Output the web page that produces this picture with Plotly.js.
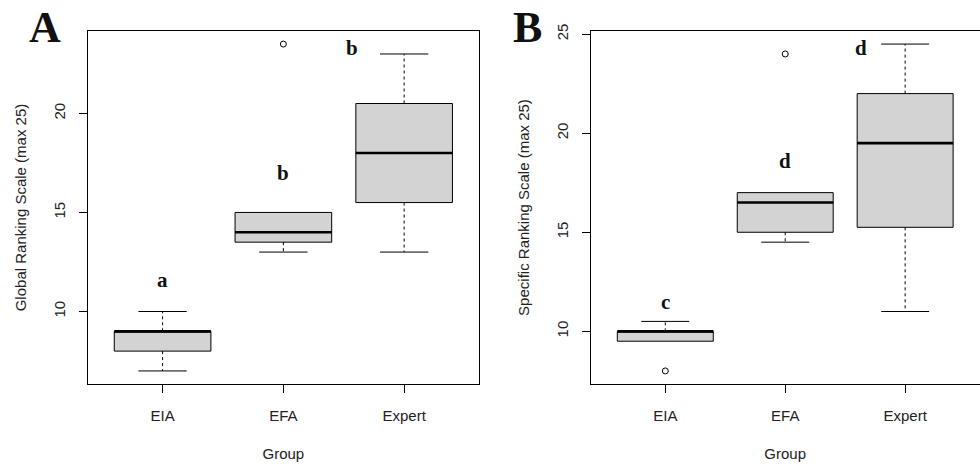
<!DOCTYPE html>
<html>
<head>
<meta charset="utf-8">
<script src="https://cdn.plot.ly/plotly-3.0.1.min.js"></script>
<style>html,body{margin:0;padding:0;background:#fff;}#chart{width:980px;height:466px;}</style>
</head>
<body>
<div id="chart"></div>
<script>
// ---- Data ----
const groups = ['EIA', 'EFA', 'Expert'];
const groupPos = [1, 2, 3];

// Panel A: Global Ranking Scale
const globalLow    = [7, 13, 13];
const globalQ1     = [8, 13.5, 15.5];
const globalMedian = [9, 14, 18];
const globalQ3     = [9, 15, 20.5];
const globalHigh   = [10, 15, 23];
const globalOutlierGroup = [2];
const globalOutlierValue = [23.5];
const globalLetters = ['a', 'b', 'b'];
const globalLetterValue = [11.6, 17, 23.3];

// Panel B: Specific Ranking Scale
const specLow    = [9.5, 14.5, 11];
const specQ1     = [9.5, 15, 15.25];
const specMedian = [10, 16.5, 19.5];
const specQ3     = [10, 17, 22];
const specHigh   = [10.5, 17, 24.5];
const specOutlierGroup = [1, 2];
const specOutlierValue = [8, 24];
const specLetters = ['c', 'd', 'd'];
const specLetterValue = [11.5, 18.6, 24.3];

// ---- Styling ----
const BOXW = 0.8, CAPW = 0.4;
const FILL = '#D3D3D3';
const sans = 'Liberation Sans, Arial, sans-serif';
const serif = 'Liberation Serif, Times New Roman, serif';
const textColor = '#222';

function panelTraces(low, q1, med, q3, high, outG, outV, xa, ya) {
  const tr = [];
  tr.push({
    type: 'box', x: groupPos, q1: q1, median: med, q3: q3,
    lowerfence: q1, upperfence: q3, width: BOXW, boxpoints: false,
    fillcolor: FILL, line: {color: '#000', width: 1}, whiskerwidth: 0,
    xaxis: xa, yaxis: ya, showlegend: false, hoverinfo: 'skip'
  });
  // thick median lines
  const mx = [], my = [];
  groupPos.forEach((p, i) => { mx.push(p - BOXW/2, p + BOXW/2, null); my.push(med[i], med[i], null); });
  tr.push({type:'scatter', mode:'lines', x:mx, y:my, line:{color:'#000', width:2.6},
    xaxis: xa, yaxis: ya, showlegend:false, hoverinfo:'skip'});
  // dashed whiskers
  const wx = [], wy = [];
  groupPos.forEach((p, i) => {
    if (high[i] > q3[i]) { wx.push(p, p, null); wy.push(q3[i], high[i], null); }
    if (low[i] < q1[i]) { wx.push(p, p, null); wy.push(q1[i], low[i], null); }
  });
  tr.push({type:'scatter', mode:'lines', x:wx, y:wy, line:{color:'#000', width:1, dash:'3px,3px'},
    xaxis: xa, yaxis: ya, showlegend:false, hoverinfo:'skip'});
  // caps (staples)
  const cx = [], cy = [];
  groupPos.forEach((p, i) => {
    if (high[i] > q3[i]) { cx.push(p - CAPW/2, p + CAPW/2, null); cy.push(high[i], high[i], null); }
    if (low[i] < q1[i]) { cx.push(p - CAPW/2, p + CAPW/2, null); cy.push(low[i], low[i], null); }
  });
  tr.push({type:'scatter', mode:'lines', x:cx, y:cy, line:{color:'#000', width:1},
    xaxis: xa, yaxis: ya, showlegend:false, hoverinfo:'skip'});
  // outliers
  tr.push({type:'scatter', mode:'markers', x:outG, y:outV,
    marker:{symbol:'circle-open', size:6, color:'#000', line:{width:1, color:'#000'}},
    xaxis: xa, yaxis: ya, showlegend:false, hoverinfo:'skip'});
  return tr;
}

const data = [].concat(
  panelTraces(globalLow, globalQ1, globalMedian, globalQ3, globalHigh, globalOutlierGroup, globalOutlierValue, 'x', 'y'),
  panelTraces(specLow, specQ1, specMedian, specQ3, specHigh, specOutlierGroup, specOutlierValue, 'x2', 'y2')
);

function xAxis(domain, anchor) {
  return {
    domain: domain, anchor: anchor, range: [0.38, 3.62],
    tickmode: 'array', tickvals: groupPos, ticktext: groups,
    ticks: 'outside', ticklen: 8, tickwidth: 1, tickcolor: '#000',
    ticklabelstandoff: 10,
    showline: true, mirror: true, linecolor: '#000', linewidth: 1,
    showgrid: false, zeroline: false, fixedrange: true,
    tickfont: {family: sans, size: 15, color: textColor},
    title: {text: 'Group', font: {family: sans, size: 15, color: textColor}, standoff: 25}
  };
}
function yAxis(anchor, title, range, tickvals) {
  return {
    anchor: anchor, domain: [0, 1], range: range,
    tickmode: 'array', tickvals: tickvals, tickangle: -90,
    ticks: 'outside', ticklen: 8, tickwidth: 1, tickcolor: '#000',
    ticklabelstandoff: 8,
    showline: true, mirror: true, linecolor: '#000', linewidth: 1,
    showgrid: false, zeroline: false, fixedrange: true,
    tickfont: {family: sans, size: 15, color: textColor},
    title: {text: title, font: {family: sans, size: 15, color: textColor}, standoff: 20}
  };
}

const annotations = [];
const letterX = [1, 2, 2.57];
globalLetters.forEach((t, i) => annotations.push({
  xref:'x', yref:'y', x: letterX[i], y: globalLetterValue[i], text: '<b>' + t + '</b>',
  showarrow:false, font:{family: serif, size: 21, color:'#111'}
}));
const letterX2 = [1, 2, 2.63];
specLetters.forEach((t, i) => annotations.push({
  xref:'x2', yref:'y2', x: letterX2[i], y: specLetterValue[i], text: '<b>' + t + '</b>',
  showarrow:false, font:{family: serif, size: 21, color:'#111'}
}));
annotations.push({xref:'paper', yref:'paper', x: 45/980, y: (466-82-27)/353, text:'<b>A</b>',
  showarrow:false, xanchor:'center', yanchor:'middle', font:{family: serif, size: 44, color:'#111'}});
annotations.push({xref:'paper', yref:'paper', x: 527/980, y: (466-82-27)/353, text:'<b>B</b>',
  showarrow:false, xanchor:'center', yanchor:'middle', font:{family: serif, size: 44, color:'#111'}});

const layout = {
  width: 980, height: 466,
  margin: {l: 0, r: 0, t: 31, b: 82, autoexpand: false},
  paper_bgcolor: '#fff', plot_bgcolor: '#fff',
  showlegend: false,
  xaxis: xAxis([0.0895, 0.4888], 'y'),
  yaxis: yAxis('x', 'Global Ranking Scale (max 25)', [6.34, 24.16], [10, 15, 20]),
  xaxis2: xAxis([0.603, 0.9995], 'y2'),
  yaxis2: yAxis('x2', 'Specific Ranking Scale (max 25)', [7.34, 25.16], [10, 15, 20, 25]),
  annotations: annotations
};

Plotly.newPlot('chart', data, layout, {staticPlot: true, displayModeBar: false});
</script>
</body>
</html>
